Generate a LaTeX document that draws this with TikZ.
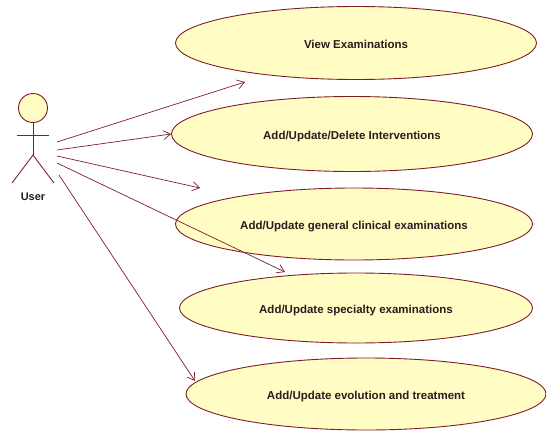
\documentclass[tikz,border=0pt]{standalone}
\usepackage{fontspec}
\setmainfont{Liberation Sans}
\usepackage{xcolor, tikz}
\usetikzlibrary{shapes.geometric,arrows.meta}
\definecolor{umlline}{RGB}{128,30,40}
\definecolor{umlfill}{RGB}{255,252,196}
\definecolor{umltext}{RGB}{40,30,30}
\tikzstyle{usecase} = [ellipse, inner sep=0pt, draw=umlline, line width=0.9pt, fill=umlfill, text=umltext, font=\fontsize{11.5}{13}\selectfont\bfseries, text height=13pt, text depth=2pt, text centered]
\tikzstyle{actorline} = [draw=umlline, line width=0.9pt]
\tikzstyle{arrow} = [umlline, line width=0.7pt, ->, >={Straight Barb[length=7pt,width=9pt]}]

\begin{document}
\begin{tikzpicture}[x=1pt, y=-1pt]
      \useasboundingbox (0,0) rectangle (546,431);
      % actor
      \node (head)[circle, minimum size=29pt, inner sep=0pt, draw=umlline, line width=0.9pt, fill=umlfill] at (33,108) {};
      \draw [actorline](head.south)--(33,155);
      \draw [actorline](17,135)--(49,135);
      \draw [actorline](12,183)--(33,155)--(54,183);
      \node (user)[text=umltext, font=\fontsize{11}{13}\selectfont\bfseries] at (33,197) {User};
      % use cases
      \node (view)[usecase, minimum width=361pt, minimum height=73pt] at (356,43) {View Examinations};
      \node (interv)[usecase, minimum width=361pt, minimum height=75pt] at (352,134) {Add/Update/Delete Interventions};
      \node (general)[usecase, minimum width=357pt, minimum height=72pt] at (354,224) {Add/Update general clinical examinations};
      \node (special)[usecase, minimum width=353pt, minimum height=70pt] at (356,308) {Add/Update specialty examinations};
      \node (evol)[usecase, minimum width=360pt, minimum height=72pt] at (366,394) {Add/Update evolution and treatment};
      % connector ends
      \coordinate (s1) at (57,142);
      \coordinate (s2) at (57,150);
      \coordinate (s3) at (57,156);
      \coordinate (s4) at (57,163);
      \coordinate (s5) at (59,175);
      \coordinate (t1) at (245,82);
      \coordinate (t3) at (200,188);
      \coordinate (t4) at (285,272);
      \coordinate (t5) at (195,381);
      \draw [arrow](s1)--(t1);
      \draw [arrow](s2)--(interv.west);
      \draw [arrow](s3)--(t3);
      \draw [arrow](s4)--(t4);
      \draw [arrow](s5)--(t5);
    \end{tikzpicture}
\end{document}
